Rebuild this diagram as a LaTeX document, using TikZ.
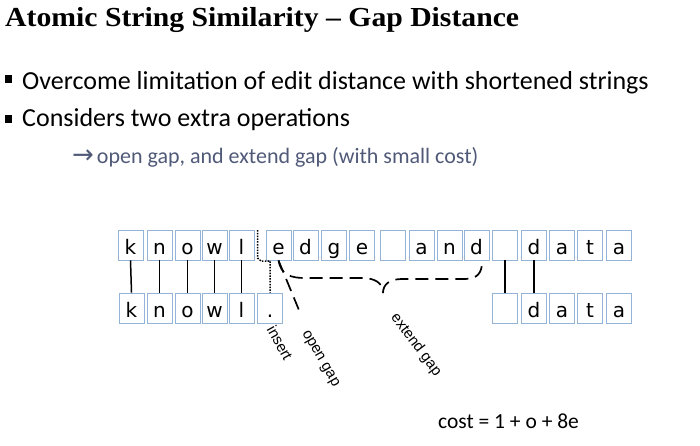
\documentclass[tikz,border=0pt]{standalone}
\usepackage{fontspec}
\setmainfont{Liberation Serif}
\newfontfamily\carl{Carlito}
\newfontfamily\dejav{DejaVu Sans}
\newfontfamily\lsans{Liberation Sans}
\definecolor{cellblue}{RGB}{149,179,215}
\definecolor{subgray}{RGB}{80,90,120}
\begin{document}
\begin{tikzpicture}[x=1pt,y=-1pt,
  cell/.style={draw=cellblue, line width=0.9pt, minimum width=25pt, minimum height=30pt,
    inner sep=0pt, text height=18.5pt, text depth=0pt, font=\dejav\fontsize{20}{20}\selectfont},
  link/.style={line width=1.5pt},
  gapline/.style={line width=1.7pt, dash pattern=on 13pt off 7pt},
  dotline/.style={line width=1.5pt, dash pattern=on 1.5pt off 1.3pt},
  lbl/.style={font=\lsans\fontsize{15}{15}\selectfont, inner sep=0pt},
  txt/.style={anchor=base west, inner sep=0pt}]
\useasboundingbox (0,0) rectangle (700,446);

% title and bullets
\node[txt, font=\bfseries\fontsize{27.5}{27.5}\selectfont, xscale=1.08] (title) at (5,27) {Atomic String Similarity – Gap Distance};
\node[fill=black, minimum size=7.5pt, inner sep=0pt] (bul1) at (8.5,79) {};
\node[txt, font=\carl\fontsize{26}{26}\selectfont] (l1) at (22,90) {Overcome limitation of edit distance with shortened strings};
\node[fill=black, minimum size=7.5pt, inner sep=0pt] (bul2) at (8.5,119) {};
\node[txt, font=\carl\fontsize{26}{26}\selectfont] (l2) at (22,127) {Considers two extra operations};
\node[txt, text=subgray, font=\carl\fontsize{22}{22}\selectfont] (sub) at (72,164) {{\dejav\fontsize{26}{26}\selectfont →}\hspace{3pt}open gap, and extend gap (with small cost)};

% top row
\node[cell] (t1) at (130.5,245) {k};
\node[cell] (t2) at (159.5,245) {n};
\node[cell] (t3) at (187.5,245) {o};
\node[cell] (t4) at (214.5,245) {w};
\node[cell] (t5) at (241.5,245) {l};
\node[cell] (t6) at (278.5,245) {e};
\node[cell] (t7) at (305.5,245) {d};
\node[cell] (t8) at (334,245) {g};
\node[cell] (t9) at (362,245) {e};
\node[cell] (t10) at (393,245) {};
\node[cell] (t11) at (421.5,245) {a};
\node[cell] (t12) at (449.5,245) {n};
\node[cell] (t13) at (476.5,245) {d};
\node[cell] (t14) at (505,245) {};
\node[cell] (t15) at (534,245) {d};
\node[cell] (t16) at (562,245) {a};
\node[cell] (t17) at (590,245) {t};
\node[cell] (t18) at (619,245) {a};

% bottom row
\node[cell] (b1) at (131.5,308) {k};
\node[cell] (b2) at (159.5,308) {n};
\node[cell] (b3) at (187.5,308) {o};
\node[cell] (b4) at (214.5,308) {w};
\node[cell] (b5) at (241.5,308) {l};
\node[cell] (b6) at (270,308) {.};
\node[cell] (b14) at (505,308) {};
\node[cell] (b15) at (534,308) {d};
\node[cell] (b16) at (562,308) {a};
\node[cell] (b17) at (590,308) {t};
\node[cell] (b18) at (619,308) {a};

% matches
\foreach \i in {1,2,3,4,5,14,15} \draw[link] (t\i.south) -- (b\i.north);

% insert marker
\coordinate (d1) at (257.5,230);
\coordinate (d2) at (257.5,258);
\coordinate (d3) at (261,261);
\coordinate (d4) at (270,261);
\draw[dotline] (d1) -- (d2) -- (d3) -- (d4) -- (b6.north);

% open gap
\coordinate (og) at (301,315);
\draw[gapline] (t6.south) -- (og);

% extend gap brace
\coordinate (brtip) at (383,293);
\coordinate (bre) at (482,262);
\draw[gapline] (t6.south) .. controls (281,275) and (291,278) .. (305,278) -- (362,278)
  .. controls (375,278) and (383,283) .. (brtip);
\draw[gapline] (brtip) .. controls (383,284) and (390,279) .. (402,279) -- (465,279)
  .. controls (478,279) and (482,272) .. (bre);

% labels
\node[lbl, rotate=-61] (ins) at (280,343) {insert};
\node[lbl, rotate=-60] (opg) at (320,359) {open gap};
\node[lbl, rotate=-53] (exg) at (416,345) {extend gap};

% cost
\node[txt, font=\carl\fontsize{21.5}{21.5}\selectfont] (cost) at (438,428) {cost = 1 + o + 8e};
\end{tikzpicture}
\end{document}
